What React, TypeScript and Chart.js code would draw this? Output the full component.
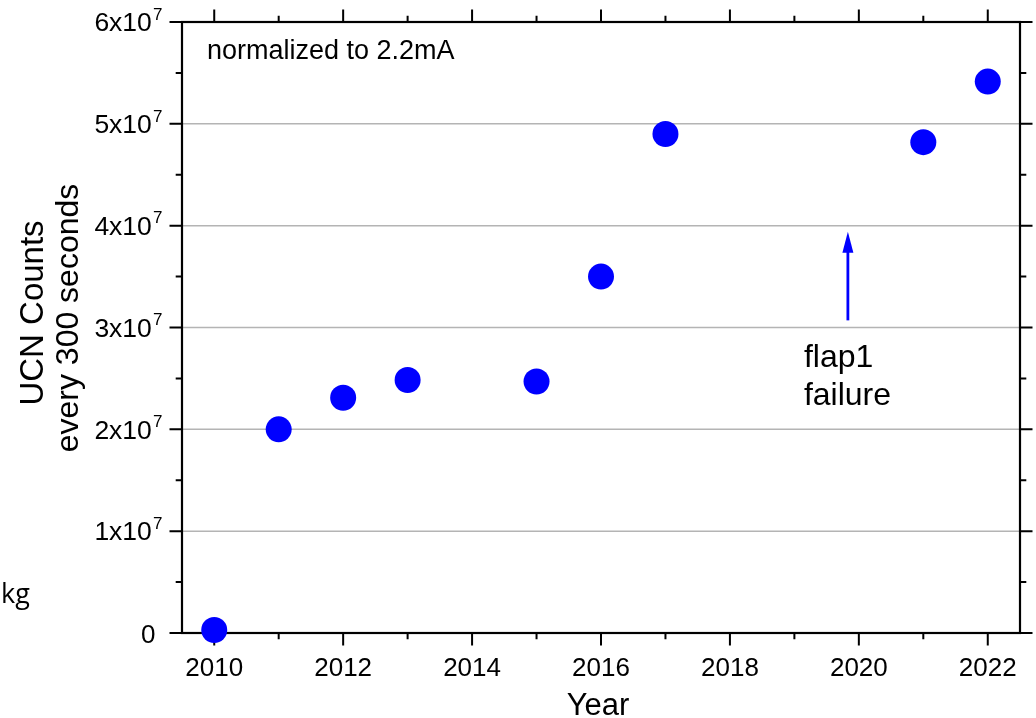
import React, { useEffect, useRef } from "react";
import { Chart, registerables } from "chart.js";

Chart.register(...registerables);

// UCN yield per year (counts in 300 s, normalized to 2.2 mA)
const years = [2010, 2011, 2012, 2013, 2015, 2016, 2017, 2021, 2022];
const counts = [0.03e7, 2.0e7, 2.31e7, 2.485e7, 2.47e7, 3.5e7, 4.9e7, 4.82e7, 5.415e7];

// axis ticks
const xMajorTicks = [2010, 2012, 2014, 2016, 2018, 2020, 2022];
const xMinorTicks = [2011, 2013, 2015, 2017, 2019, 2021];
const yMajorTicks = [0, 1e7, 2e7, 3e7, 4e7, 5e7, 6e7];
const yMinorTicks = [0.5e7, 1.5e7, 2.5e7, 3.5e7, 4.5e7, 5.5e7];
const yGridValues = [1e7, 2e7, 3e7, 4e7, 5e7];

// "flap1 failure" marker: arrow from (x, y0) up to (x, y1)
const arrowX = 2019.83;
const arrowFrom = 3.07e7;
const arrowTo = 3.94e7;
const flapLabel = ["flap1", "failure"];

const FONT = '"Liberation Sans", Arial, sans-serif';
const BLUE = "#0000ff";

const axisPlugin = {
  id: "originAxes",
  beforeDatasetsDraw(chart: any) {
    const { ctx, chartArea: a, scales } = chart;
    const x = scales.x;
    const y = scales.y;
    ctx.save();

    // horizontal grid lines
    ctx.strokeStyle = "#b4b4b4";
    ctx.lineWidth = 1.5;
    for (const v of yGridValues) {
      const py = y.getPixelForValue(v);
      ctx.beginPath();
      ctx.moveTo(a.left, py);
      ctx.lineTo(a.right, py);
      ctx.stroke();
    }

    // frame
    ctx.strokeStyle = "#000";
    ctx.lineWidth = 2.2;
    ctx.strokeRect(a.left, a.top, a.right - a.left, a.bottom - a.top);

    // outward ticks on all four sides
    ctx.lineWidth = 2;
    const major = 12.5;
    const minor = 6.3;
    const hTick = (v: number, len: number) => {
      const px = x.getPixelForValue(v);
      ctx.beginPath();
      ctx.moveTo(px, a.bottom);
      ctx.lineTo(px, a.bottom + len);
      ctx.moveTo(px, a.top);
      ctx.lineTo(px, a.top - len);
      ctx.stroke();
    };
    const vTick = (v: number, len: number) => {
      const py = y.getPixelForValue(v);
      ctx.beginPath();
      ctx.moveTo(a.left, py);
      ctx.lineTo(a.left - len, py);
      ctx.moveTo(a.right, py);
      ctx.lineTo(a.right + len, py);
      ctx.stroke();
    };
    xMajorTicks.forEach((v) => hTick(v, major));
    xMinorTicks.forEach((v) => hTick(v, minor));
    yMajorTicks.forEach((v) => vTick(v, major));
    yMinorTicks.forEach((v) => vTick(v, minor));

    // x tick labels
    ctx.fillStyle = "#000";
    ctx.font = `26px ${FONT}`;
    ctx.textAlign = "center";
    ctx.textBaseline = "alphabetic";
    for (const v of xMajorTicks) {
      ctx.fillText(String(v), x.getPixelForValue(v), a.bottom + 43);
    }

    // y tick labels in the form Nx10^7
    const rightEdge = a.left - 19.5;
    for (const v of yMajorTicks) {
      const py = y.getPixelForValue(v);
      const m = Math.round(v / 1e7);
      if (m === 0) {
        ctx.font = `26px ${FONT}`;
        ctx.textAlign = "right";
        ctx.fillText("0", rightEdge - 7, py + 9.5);
        continue;
      }
      ctx.font = `17px ${FONT}`;
      ctx.textAlign = "right";
      ctx.fillText("7", rightEdge, py - 2.3);
      const supW = ctx.measureText("7").width;
      ctx.font = `26.5px ${FONT}`;
      ctx.fillText(`${m}x10`, rightEdge - supW - 1.2, py + 9.3);
    }

    // axis titles
    ctx.font = `31px ${FONT}`;
    ctx.textAlign = "center";
    ctx.fillText("Year", (a.left + a.right) / 2 - 3, a.bottom + 82);

    ctx.font = `33px ${FONT}`;
    ctx.save();
    ctx.translate(43, 313);
    ctx.rotate(-Math.PI / 2);
    ctx.fillText("UCN Counts", 0, 0);
    ctx.restore();
    ctx.font = `32px ${FONT}`;
    ctx.save();
    ctx.translate(78, 318);
    ctx.rotate(-Math.PI / 2);
    ctx.fillText("every 300 seconds", 0, 0);
    ctx.restore();

    // in-plot note
    ctx.font = `27px ${FONT}`;
    ctx.textAlign = "left";
    ctx.fillText("normalized to 2.2mA", a.left + 25, 59);

    // stray label at the left edge
    ctx.font = `27px "Open Sans", sans-serif`;
    ctx.fillText("kg", 1, 603);

    // flap1 failure arrow
    const ax = x.getPixelForValue(arrowX);
    const y0 = y.getPixelForValue(arrowFrom);
    const y1 = y.getPixelForValue(arrowTo);
    const headLen = 21;
    const headHalf = 5.5;
    ctx.strokeStyle = BLUE;
    ctx.fillStyle = BLUE;
    ctx.lineWidth = 2.8;
    ctx.beginPath();
    ctx.moveTo(ax, y0);
    ctx.lineTo(ax, y1 + headLen - 2);
    ctx.stroke();
    ctx.beginPath();
    ctx.moveTo(ax, y1);
    ctx.lineTo(ax - headHalf, y1 + headLen);
    ctx.lineTo(ax + headHalf, y1 + headLen);
    ctx.closePath();
    ctx.fill();

    ctx.fillStyle = "#000";
    ctx.font = `32px ${FONT}`;
    ctx.textAlign = "left";
    flapLabel.forEach((t, i) => ctx.fillText(t, ax - 44, y0 + 47 + i * 38));

    ctx.restore();
  },
};

export default function App() {
  const canvasRef = useRef<HTMLCanvasElement | null>(null);

  useEffect(() => {
    const canvas = canvasRef.current;
    if (!canvas) return;
    const chart = new Chart(canvas, {
      type: "scatter",
      data: {
        datasets: [
          {
            data: years.map((yr, i) => ({ x: yr, y: counts[i] })),
            backgroundColor: BLUE,
            borderWidth: 0,
            pointRadius: 13,
            pointHoverRadius: 13,
            clip: false as any,
          },
        ],
      },
      options: {
        responsive: false,
        animation: false,
        layout: { padding: { left: 182, top: 22, right: 16, bottom: 85 } },
        plugins: { legend: { display: false }, tooltip: { enabled: false } },
        scales: {
          x: { type: "linear", min: 2009.5, max: 2022.5, display: false },
          y: { type: "linear", min: 0, max: 6e7, display: false },
        },
      },
      plugins: [axisPlugin],
    });
    return () => chart.destroy();
  }, []);

  return (
    <div style={{ position: "fixed", left: 0, top: 0, width: 1036, height: 718, background: "#fff" }}>
      <canvas ref={canvasRef} width={1036} height={718} />
    </div>
  );
}
